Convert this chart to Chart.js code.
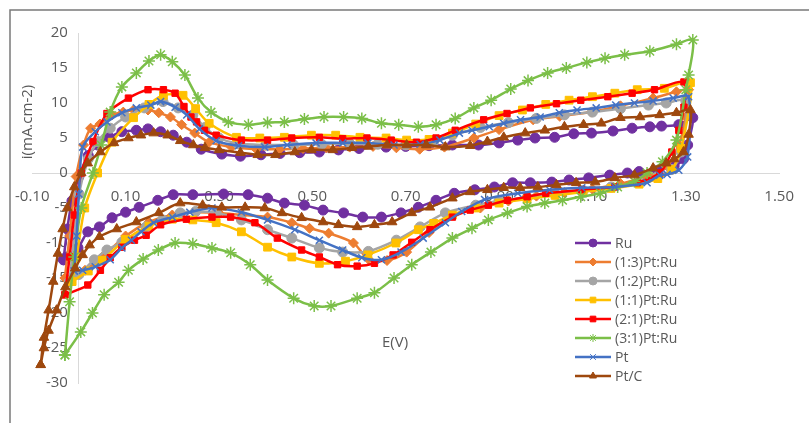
<!DOCTYPE html>
<html>
<head>
<meta charset="utf-8">
<script src="https://cdn.jsdelivr.net/npm/chart.js@4.4.0/dist/chart.umd.min.js"></script>
<style>
  body { margin: 0; background: #fff; }
  #wrap { width: 809px; height: 423px; }
</style>
</head>
<body>
<div id="wrap"><canvas id="cvChart" width="809" height="423"></canvas></div>
<script>
// series names
const seriesNames = ["Ru", "(1:3)Pt:Ru", "(1:2)Pt:Ru", "(1:1)Pt:Ru", "(2:1)Pt:Ru", "(3:1)Pt:Ru", "Pt", "Pt/C"];

// axis ticks
const xTicks = [-0.1, 0.1, 0.3, 0.5, 0.7, 0.9, 1.1, 1.3, 1.5];
const yTicks = [-30, -25, -20, -15, -10, -5, 0, 5, 10, 15, 20];

// Ru : potential (V) / current (mA.cm-2), forward then reverse scan
const ruE = [-0.033, -0.025, -0.015, 0.0, 0.02, 0.04, 0.065, 0.092, 0.123, 0.148, 0.175, 0.202, 0.231, 0.262, 0.306, 0.346, 0.39, 0.431, 0.473, 0.515, 0.556, 0.6, 0.658, 0.7, 0.75, 0.8, 0.856, 0.9, 0.94, 0.977, 1.019, 1.06, 1.098, 1.144, 1.185, 1.223, 1.248, 1.285, 1.315,
  1.304, 1.295, 1.275, 1.24, 1.2, 1.175, 1.137, 1.092, 1.05, 1.013, 0.967, 0.929, 0.89, 0.848, 0.804, 0.765, 0.727, 0.69, 0.648, 0.608, 0.567, 0.523, 0.483, 0.44, 0.404, 0.3625, 0.31, 0.244, 0.202, 0.169, 0.129, 0.1, 0.071, 0.044, 0.019, -0.002, -0.027, -0.033];
const ruI = [-12.4, -8, -4, -0.5, 2.5, 4, 5.1, 5.9, 6.1, 6.3, 5.9, 5.4, 4.4, 3.4, 2.7, 2.4, 2.6, 2.8, 2.9, 3.0, 3.3, 3.5, 3.7, 3.8, 3.9, 4.0, 4.0, 4.3, 4.7, 5.0, 5.1, 5.6, 5.7, 6.0, 6.4, 6.6, 6.7, 6.9, 7.9,
  4, 2, 1, 0.4, 0.2, 0, -0.3, -0.7, -1, -1.3, -1.4, -1.4, -2, -2.4, -2.9, -3.9, -4.9, -5.7, -6.3, -6.3, -5.7, -5.3, -4.6, -4.3, -3.6, -3.1, -3.0, -3.1, -3.1, -3.9, -4.9, -5.6, -6.4, -7.7, -8.4, -10.7, -12, -12.4];

// (1:3)Pt:Ru
const pr13E = [-0.03, -0.02, -0.006, 0.01, 0.025, 0.045, 0.071, 0.095, 0.117, 0.148, 0.171, 0.196, 0.22, 0.248, 0.279, 0.327, 0.38, 0.43, 0.48, 0.53, 0.58, 0.63, 0.68, 0.73, 0.783, 0.846, 0.9, 0.973, 1.03, 1.098, 1.16, 1.23, 1.28, 1.306,
  1.3, 1.285, 1.26, 1.22, 1.16, 1.1, 1.04, 0.98, 0.92, 0.86, 0.8, 0.75, 0.702, 0.66, 0.62, 0.588, 0.535, 0.494, 0.456, 0.404, 0.35, 0.3, 0.25, 0.2, 0.15, 0.1, 0.05, 0.013, -0.015, -0.03];
const pr13I = [-15, -9, -0.5, 4, 6.4, 7.0, 8.3, 8.7, 9, 9, 8.6, 8, 6.9, 5.7, 4.4, 3.7, 3.4, 3.4, 3.5, 3.6, 3.7, 3.8, 3.6, 3.4, 3.7, 5.0, 6.2, 7.6, 8.1, 8.7, 9.6, 10.7, 11.6, 11.9,
  8, 4, 1, -0.5, -1.5, -2.3, -2.8, -3.3, -4, -5, -6, -8.5, -11.3, -12.5, -12.3, -10, -8.6, -7.9, -7.1, -6.3, -6, -5.7, -5.6, -6, -7, -9, -12, -13.9, -14.8, -15];

// (1:2)Pt:Ru
const pr12E = [-0.02, -0.01, 0.0, 0.02, 0.04, 0.067, 0.1, 0.14, 0.18, 0.2125, 0.244, 0.27, 0.3, 0.34, 0.4, 0.46, 0.52, 0.58, 0.64, 0.7, 0.76, 0.8, 0.86, 0.92, 0.98, 1.04, 1.1, 1.16, 1.22, 1.258, 1.3,
  1.29, 1.27, 1.24, 1.2, 1.14, 1.08, 1.02, 0.96, 0.9, 0.85, 0.785, 0.731, 0.68, 0.62, 0.565, 0.515, 0.456, 0.404, 0.348, 0.294, 0.25, 0.217, 0.179, 0.144, 0.092, 0.06, 0.033, 0.0, -0.02];
const pr12I = [-15.5, -9, -3, 2, 4.5, 6.4, 8, 9.3, 10.2, 9.3, 8.3, 6.5, 5, 4.2, 4, 4, 4.1, 4.2, 4.1, 4.0, 4.5, 5.4, 6.5, 7.2, 7.8, 8.3, 8.7, 9.2, 9.7, 10, 10.3,
  3, 0.5, -0.5, -1.3, -2, -2.5, -3, -3.5, -4, -4.6, -5.7, -7.7, -9.6, -11.2, -11.3, -10.7, -9.3, -8.1, -6.7, -5.7, -5.5, -5.7, -6.7, -7.7, -9.9, -11, -12.4, -14.5, -15.5];

// (1:1)Pt:Ru
const pr11E = [-0.015, -0.005, 0.0125, 0.04, 0.071, 0.117, 0.15, 0.181, 0.223, 0.25, 0.279, 0.3375, 0.3875, 0.44, 0.498, 0.55, 0.602, 0.658, 0.702, 0.75, 0.8, 0.85, 0.9, 0.95, 1.0, 1.05, 1.1, 1.148, 1.196, 1.254, 1.31,
  1.29, 1.27, 1.24, 1.2, 1.14, 1.08, 1.02, 0.96, 0.9, 0.85, 0.8, 0.76, 0.727, 0.679, 0.619, 0.571, 0.515, 0.456, 0.404, 0.348, 0.294, 0.244, 0.2, 0.15, 0.1, 0.05, 0.02, -0.015];
const pr11I = [-15.5, -12, -5, 0, 4.4, 7.9, 9.8, 11.1, 11.1, 9.2, 7.1, 5.1, 5, 5.1, 5.4, 5.4, 5.1, 5, 4.7, 4.8, 5.7, 7, 8.2, 9, 9.8, 10.4, 10.9, 11.4, 11.9, 12.1, 12.9,
  3.5, 0.5, -0.8, -1.6, -2.2, -2.7, -3.2, -3.7, -4.3, -5, -6, -7.2, -8.1, -10, -11.7, -12.6, -12.9, -12, -10.6, -8.4, -7.1, -6.7, -6.6, -7.6, -9.5, -12.5, -14, -15.5];

// (2:1)Pt:Ru
const pr21E = [-0.03, -0.02, -0.01, 0.005, 0.03, 0.06, 0.106, 0.148, 0.181, 0.206, 0.225, 0.24, 0.252, 0.269, 0.294, 0.348, 0.404, 0.456, 0.515, 0.565, 0.617, 0.669, 0.723, 0.765, 0.806, 0.867, 0.917, 0.967, 1.023, 1.075, 1.133, 1.185, 1.233, 1.296,
  1.296, 1.285, 1.27, 1.244, 1.196, 1.148, 1.077, 1.0, 0.96, 0.918, 0.877, 0.838, 0.8, 0.752, 0.713, 0.673, 0.633, 0.596, 0.554, 0.515, 0.477, 0.425, 0.377, 0.325, 0.285, 0.23, 0.175, 0.144, 0.119, 0.092, 0.067, 0.046, 0.019, -0.03];
const pr21I = [-17.4, -12, -6, 0, 4.5, 8.5, 10.7, 11.9, 11.9, 11.4, 9.5, 8.0, 7.3, 6.1, 5.4, 4.7, 4.7, 5, 5.1, 4.9, 5, 4.7, 4.4, 5, 6.1, 7.6, 8.5, 9.3, 9.9, 10.4, 10.9, 11.4, 11.9, 13,
  9.4, 6.1, 3, 0, -1.4, -2, -2.4, -2.9, -3.4, -3.9, -4.6, -5.3, -6.3, -8.1, -9.9, -11.7, -12.9, -13.3, -13.1, -12, -11, -9.3, -7.1, -6.3, -6.3, -6.6, -7.4, -8.9, -9.6, -10.6, -12.1, -13.9, -16, -17.4];

// (3:1)Pt:Ru
const pr31E = [-0.03, -0.02, -0.01, 0.005, 0.03, 0.048, 0.067, 0.092, 0.123, 0.15, 0.175, 0.2, 0.227, 0.255, 0.283, 0.32, 0.363, 0.404, 0.44, 0.483, 0.525, 0.567, 0.606, 0.648, 0.685, 0.727, 0.765, 0.806, 0.846, 0.883, 0.925, 0.962, 1.004, 1.044, 1.088, 1.127, 1.169, 1.223, 1.28, 1.315,
  1.306, 1.3, 1.28, 1.25, 1.217, 1.19, 1.154, 1.117, 1.075, 1.036, 0.998, 0.96, 0.918, 0.877, 0.842, 0.8, 0.754, 0.713, 0.675, 0.633, 0.596, 0.54, 0.504, 0.46, 0.404, 0.367, 0.325, 0.285, 0.244, 0.206, 0.17, 0.1375, 0.106, 0.085, 0.054, 0.029, 0.004, -0.03];
const pr31I = [-26, -18.4, -12, -5, 0, 4, 8.7, 12.3, 14.3, 16, 16.9, 15.9, 14, 10.7, 8.7, 7.3, 6.9, 7.2, 7.3, 7.7, 8, 8, 7.8, 7.1, 6.9, 6.6, 6.9, 7.8, 9.3, 10.4, 12, 13.2, 14.3, 15, 15.8, 16.4, 16.9, 17.4, 18.4, 19,
  14, 11.9, 4.7, 1.6, 0, -1.2, -2, -2.9, -3.4, -3.9, -4.3, -4.8, -5.7, -6.7, -7.9, -9.3, -11.3, -13.1, -15, -17.1, -17.9, -19, -19, -17.9, -15.3, -13.1, -11.4, -10.7, -10.1, -10, -11, -12.3, -13.9, -15.6, -17.4, -20, -22.7, -26];

// Pt
const ptE = [-0.01, -0.005, 0.0, 0.008, 0.035, 0.06, 0.092, 0.123, 0.154, 0.175, 0.206, 0.231, 0.258, 0.294, 0.342, 0.398, 0.446, 0.508, 0.565, 0.619, 0.675, 0.731, 0.773, 0.815, 0.842, 0.879, 0.91, 0.946, 0.988, 1.029, 1.067, 1.108, 1.15, 1.19, 1.23, 1.273, 1.306,
  1.304, 1.285, 1.26, 1.244, 1.217, 1.148, 1.077, 1.008, 0.94, 0.869, 0.82, 0.785, 0.7375, 0.69, 0.648, 0.606, 0.565, 0.515, 0.4625, 0.404, 0.348, 0.285, 0.2375, 0.2, 0.16, 0.133, 0.1125, 0.092, 0.067, 0.035, 0.008, -0.01];
const ptI = [-14, -9, -3, 3.7, 5.9, 7.3, 8.6, 9.3, 9.7, 10.2, 9.4, 8.3, 6.3, 4.6, 3.9, 3.7, 4, 4.3, 4.3, 4.3, 4, 4.1, 4.7, 5.7, 6.1, 6.6, 7.1, 7.6, 8, 8.6, 9, 9.3, 9.7, 10, 10.3, 10.7, 10.9,
  2.3, 0.4, -0.2, -0.3, -1.4, -2, -2.1, -2.4, -2.9, -3.8, -5.5, -7.1, -9.3, -11.3, -12.4, -12.1, -11, -9.6, -8.1, -6.7, -5.6, -5, -5.6, -6.3, -7.1, -8.4, -9.6, -10.7, -12.4, -13.4, -13.9, -14];

// Pt/C
const ptcE = [-0.082, -0.075, -0.065, -0.055, -0.045, -0.035, -0.025, -0.01, 0.005, 0.019, 0.046, 0.075, 0.106, 0.133, 0.16, 0.19, 0.217, 0.245, 0.27, 0.3, 0.346, 0.383, 0.421, 0.4625, 0.498, 0.544, 0.585, 0.62, 0.66, 0.702, 0.744, 0.785, 0.838, 0.875, 0.91, 0.956, 0.998, 1.04, 1.081, 1.119, 1.16, 1.202, 1.244, 1.28, 1.31,
  1.306, 1.295, 1.275, 1.258, 1.23, 1.19, 1.148, 1.106, 1.065, 1.023, 0.983, 0.945, 0.91, 0.875, 0.838, 0.8, 0.752, 0.713, 0.671, 0.633, 0.596, 0.556, 0.523, 0.477, 0.435, 0.398, 0.356, 0.306, 0.265, 0.217, 0.171, 0.123, 0.081, 0.044, 0.023, 0.008, -0.008, -0.029, -0.048, -0.065, -0.075, -0.082];
const ptcI = [-27.4, -23.5, -19.6, -15.5, -11.5, -8, -5, -2, 0, 1.4, 3, 4.3, 5, 5.4, 5.7, 5.4, 4.6, 4.0, 3.6, 3.3, 2.9, 2.6, 2.6, 3, 3.3, 3.3, 3.6, 3.8, 4, 4, 4, 3.7, 3.9, 4.5, 5.1, 5.7, 6.1, 6.6, 6.9, 7.1, 7.9, 8, 8.3, 8.6, 9,
  5.5, 3, 2, 1.4, 0.7, -0.3, -0.7, -1.3, -1.4, -1.7, -2, -2.1, -2.1, -2.4, -2.7, -3.6, -4.9, -5.7, -7, -7.4, -7.7, -7.4, -7, -6.4, -5.7, -5, -4.9, -4.9, -4.6, -4.3, -5.7, -7, -8, -9.1, -10.3, -11.7, -13.6, -16.3, -19.6, -22.5, -25, -27.4];

const seriesE = [ruE, pr13E, pr12E, pr11E, pr21E, pr31E, ptE, ptcE];
const seriesI = [ruI, pr13I, pr12I, pr11I, pr21I, pr31I, ptI, ptcI];

const colors = ["#7030A0", "#ED7D31", "#A5A5A5", "#FFC000", "#FF0000", "#7BBF48", "#4472C4", "#9E480E"];
const markers = ["circle", "rectRot", "circle", "rect", "rect", "star", "crossRot", "triangle"];
const markerSize = [5, 5, 5, 5.5, 4.5, 6, 5, 5.5];

function toPoints(E, I) {
  return E.map((e, k) => ({ x: e, y: I[k] }));
}

const datasets = seriesNames.map((name, i) => ({
  label: name,
  data: toPoints(seriesE[i], seriesI[i]),
  showLine: true,
  borderColor: colors[i],
  backgroundColor: colors[i],
  borderWidth: 2.5,
  tension: 0.28,
  pointStyle: markers[i],
  pointRadius: markerSize[i],
  pointBorderWidth: markers[i] === "star" || markers[i] === "crossRot" ? 1.5 : 1,
  pointBorderColor: colors[i],
  pointBackgroundColor: colors[i],
  order: seriesNames.length - i,
}));

// frame, y labels and axis titles sit under the curves, legend on top
const decorPlugin = {
  id: "decor",
  beforeDatasetsDraw(chart) {
    const ctx = chart.ctx;
    ctx.save();
    ctx.strokeStyle = "#7a7a7a";
    ctx.lineWidth = 1.5;
    ctx.beginPath();
    ctx.moveTo(10, 423);
    ctx.lineTo(10, 10);
    ctx.lineTo(809, 10);
    ctx.stroke();

    // y tick labels beside the axis that crosses at E = 0
    const xs = chart.scales.x;
    const ys = chart.scales.y;
    const axisX = xs.getPixelForValue(0);
    ctx.fillStyle = "#595959";
    ctx.font = '15px "Open Sans", sans-serif';
    ctx.textAlign = "right";
    ctx.textBaseline = "middle";
    ys.ticks.forEach((t) => {
      ctx.fillText(String(t.value), axisX - 11, ys.getPixelForValue(t.value));
    });

    ctx.textAlign = "center";
    ctx.fillText("E(V)", 395, 343);
    ctx.save();
    ctx.translate(28, 122);
    ctx.rotate(-Math.PI / 2);
    ctx.fillText("i(mA.cm-2)", 0, 0);
    ctx.restore();
    ctx.restore();
  },
  afterDraw(chart) {
    const ctx = chart.ctx;
    ctx.save();
    ctx.font = '14px "Open Sans", sans-serif';
    ctx.textAlign = "left";
    ctx.textBaseline = "middle";
    chart.data.datasets.forEach((ds, i) => {
      const y = 243 + i * 19;
      ctx.strokeStyle = ds.borderColor;
      ctx.fillStyle = ds.borderColor;
      ctx.lineWidth = 2.5;
      ctx.beginPath();
      ctx.moveTo(575, y);
      ctx.lineTo(611, y);
      ctx.stroke();
      ctx.lineWidth = 1;
      Chart.helpers.drawPoint(ctx, {
        pointStyle: ds.pointStyle,
        radius: 4,
        rotation: 0,
        borderWidth: 1,
      }, 593, y);
      ctx.fillStyle = "#595959";
      ctx.fillText(ds.label, 615, y + 1);
    });
    ctx.restore();
  },
};

const cvCtx = document.getElementById("cvChart").getContext("2d");
const cvChart = new Chart(cvCtx, {
  type: "scatter",
  data: { datasets: datasets },
  options: {
    responsive: false,
    animation: false,
    layout: {
      padding: { left: 28, right: 13, top: 33, bottom: 40 },
    },
    plugins: {
      legend: { display: false },
      tooltip: { enabled: false },
    },
    scales: {
      x: {
        type: "linear",
        position: { y: 0 },
        min: xTicks[0],
        max: xTicks[xTicks.length - 1],
        afterBuildTicks(scale) {
          scale.ticks = xTicks.map((v) => ({ value: v }));
        },
        ticks: {
          color: "#595959",
          font: { family: "Open Sans", size: 15 },
          padding: 15,
          maxRotation: 0,
          callback: (v) => Number(v).toFixed(2),
        },
        grid: { display: false, drawTicks: false },
        border: { display: true, color: "#d9d9d9", width: 1 },
      },
      y: {
        type: "linear",
        position: { x: 0 },
        min: yTicks[0],
        max: yTicks[yTicks.length - 1],
        afterBuildTicks(scale) {
          scale.ticks = yTicks.map((v) => ({ value: v }));
        },
        ticks: { display: false },
        grid: { display: false, drawTicks: false },
        border: { display: true, color: "#d9d9d9", width: 1 },
      },
    },
  },
  plugins: [decorPlugin],
});
</script>
</body>
</html>
